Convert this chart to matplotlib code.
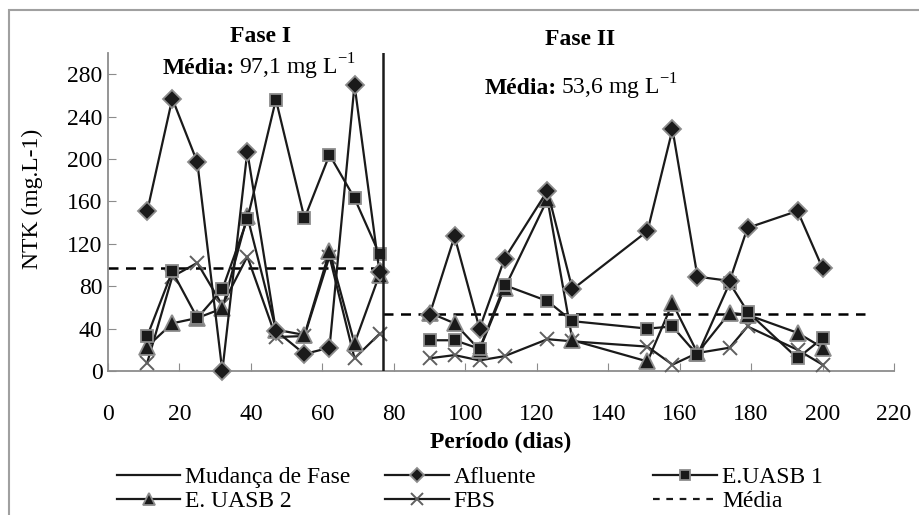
import matplotlib.pyplot as plt
from matplotlib.lines import Line2D
from matplotlib.patches import Rectangle

plt.rcParams['font.family'] = ['Liberation Serif', 'DejaVu Serif']
plt.rcParams['mathtext.fontset'] = 'custom'
plt.rcParams['mathtext.rm'] = 'Liberation Serif'
plt.rcParams['mathtext.bf'] = 'Liberation Serif:bold'

# dias de operação
dias_f1 = [11, 18, 25, 32, 39, 47, 55, 62, 69, 76]
dias_f2 = [90, 97, 104, 111, 123, 130, 151, 158, 165, 174, 179, 193, 200]

# NTK (mg/L) - fase I
afluente_f1 = [151, 257, 197, 0, 207, 38, 16, 22, 270, 93]
uasb1_f1 = [33, 94, 50, 77, 143, 256, 144, 204, 163, 110]
uasb2_f1 = [23, 45, 50, 59, 146, 39, 34, 113, 26, 91]
fbs_f1 = [8, 89, 102, 62, 108, 32, 33, 108, 12, 35]

# NTK (mg/L) - fase II
afluente_f2 = [53, 127, 40, 106, 170, 77, 132, 228, 89, 85, 135, 151, 97]
uasb1_f2 = [29, 29, 21, 81, 66, 47, 40, 42, 15, 83, 56, 12, 31]
uasb2_f2 = [55, 45, 20, 78, 162, 29, 9, 64, 17, 55, 53, 36, 22]
fbs_f2 = [12, 15, 10, 14, 30, 28, 23, 6, 17, 22, 42, 20, 6]

media_f1 = 97.1
media_f2 = 53.6
mudanca = 77
fim_media_f2 = 212

fig = plt.figure(figsize=(9.19, 5.15), dpi=100)
ax = fig.add_axes([0.1175, 0.2796, 0.8553, 0.6175])

cinza = '#8c8c8c'
estilos = {
    'Afluente': dict(marker='D', ms=9, mfc='#1a1a1a', mec=cinza, mew=1.3),
    'E.UASB 1': dict(marker='s', ms=9, mfc='#1a1a1a', mec=cinza, mew=1.3),
    'E. UASB 2': dict(marker='^', ms=11.5, mfc='#1a1a1a', mec=cinza, mew=1.3),
    'FBS': dict(marker='x', ms=9.5, mec='#606060', mew=1.4),
}

series = [
    ('FBS', fbs_f1, fbs_f2),
    ('E. UASB 2', uasb2_f1, uasb2_f2),
    ('E.UASB 1', uasb1_f1, uasb1_f2),
    ('Afluente', afluente_f1, afluente_f2),
]
for nome, v1, v2 in series:
    for d, v in ((dias_f1, v1), (dias_f2, v2)):
        ax.plot(d, v, color='#1a1a1a', lw=1.6, clip_on=False, zorder=3,
                **estilos[nome])

ax.plot([0, mudanca], [media_f1, media_f1], 'k--', lw=1.8, dashes=(4, 3))
ax.plot([mudanca, fim_media_f2], [media_f2, media_f2], 'k--', lw=1.8,
        dashes=(4, 3))
ax.axvline(mudanca, color='#1a1a1a', lw=1.8, zorder=4)

ax.set_xlim(0, 220)
ax.set_ylim(0, 300)
ax.set_xticks(range(0, 221, 20))
ax.set_yticks(range(0, 281, 40))
ax.tick_params(direction='in', length=6, color=cinza, labelsize=17)
ax.tick_params(axis='x', pad=24)
ax.tick_params(axis='y', pad=4)
for s in ('top', 'right'):
    ax.spines[s].set_visible(False)
for s in ('left', 'bottom'):
    ax.spines[s].set_color(cinza)
    ax.spines[s].set_linewidth(1.3)

ax.set_xlabel('Período (dias)', fontsize=17, fontweight='bold', labelpad=5)
ax.set_ylabel('NTK (mg.L-1)', fontsize=17, labelpad=0)
ax.yaxis.set_label_coords(-0.083, 0.54)

ax.text(42.8, 316, 'Fase I', fontsize=17, fontweight='bold',
        ha='center', va='center', clip_on=False)
ax.text(132, 313, 'Fase II', fontsize=17, fontweight='bold',
        ha='center', va='center', clip_on=False)

# "Média:" em negrito seguido do valor
for xm, ym, valor in ((35.7, 280, '97,1'), (125.8, 261, '53,6')):
    ax.text(xm - 0.3, ym, 'Média:', fontsize=17, fontweight='bold',
            ha='right', va='baseline', clip_on=False)
    ax.text(xm + 1.1, ym, valor + r' mg L$^{-1}$', fontsize=17,
            ha='left', va='baseline', clip_on=False)

# legenda em três colunas
h_fase = Line2D([], [], color='#1a1a1a', lw=1.6)
h_afl = Line2D([], [], color='#1a1a1a', lw=1.6, **dict(estilos['Afluente'], ms=7))
h_u1 = Line2D([], [], color='#1a1a1a', lw=1.6, **dict(estilos['E.UASB 1'], ms=7))
h_u2 = Line2D([], [], color='#1a1a1a', lw=1.6, **dict(estilos['E. UASB 2'], ms=8))
h_fbs = Line2D([], [], color='#1a1a1a', lw=1.6, **dict(estilos['FBS'], ms=8))
h_med = Line2D([], [], color='#1a1a1a', lw=1.6, ls='--', dashes=(3, 3))

colunas = [
    (0.127, [h_fase, h_u2], ['Mudança de Fase', 'E. UASB 2']),
    (0.419, [h_afl, h_fbs], ['Afluente', 'FBS']),
    (0.711, [h_u1, h_med], ['E.UASB 1', 'Média']),
]
for x0, hs, ls in colunas:
    fig.legend(hs, ls, loc='upper left', bbox_to_anchor=(x0, 0.094),
               frameon=False, fontsize=17, handlelength=2.7,
               handletextpad=0.2, labelspacing=0.12, borderpad=0,
               borderaxespad=0)

fig.patches.append(Rectangle((9 / 919, -0.1), 2, 1 - 10 / 515 + 0.1,
                             transform=fig.transFigure, fill=False,
                             edgecolor='#a0a0a0', lw=1.5))

fig.savefig('out.png', dpi=100)
